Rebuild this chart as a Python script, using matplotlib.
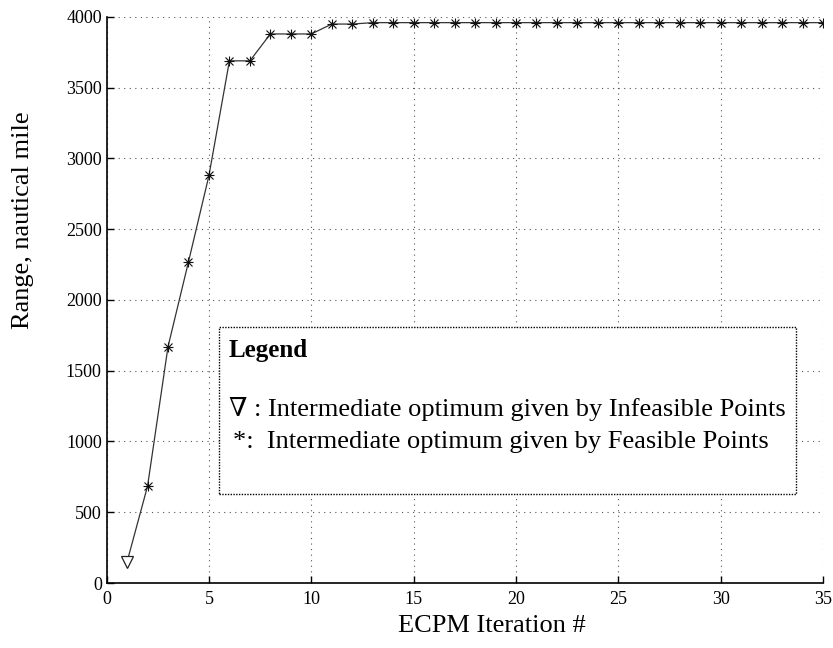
import numpy as np
import matplotlib
matplotlib.use('Agg')
import matplotlib.pyplot as plt
from matplotlib.patches import Rectangle

# ECPM iteration history
infeasible_iter = [1]
infeasible_range = [150]

feasible_iter = list(range(2, 36))
feasible_range = [685, 1670, 2270, 2880, 3690, 3690, 3880, 3880, 3880,
                  3950, 3950] + [3960] * 23

all_iter = infeasible_iter + feasible_iter
all_range = infeasible_range + feasible_range

plt.rcParams['font.family'] = ['Liberation Serif', 'DejaVu Serif']

fig = plt.figure(figsize=(8.33, 6.48), dpi=100)
ax = fig.add_axes([0.128, 0.1003, 0.860, 0.8735])

ax.plot(all_iter, all_range, color='#333333', lw=0.9)
ax.plot(infeasible_iter, infeasible_range, linestyle='none', marker='v',
        markersize=9, markerfacecolor='white', markeredgecolor='#222222', markeredgewidth=0.9)
ax.plot(feasible_iter, feasible_range, linestyle='none', marker='+',
        markersize=7.5, color='#111111', markeredgewidth=0.8)
ax.plot(feasible_iter, feasible_range, linestyle='none', marker='x',
        markersize=5.5, color='#111111', markeredgewidth=0.8)
ax.plot(feasible_iter, feasible_range, linestyle='none', marker='s',
        markersize=2, color='#111111')

ax.set_xlim(0, 35)
ax.set_ylim(0, 4000)
ax.set_xticks(range(0, 36, 5))
ax.set_yticks(range(0, 4001, 500))
ax.grid(True, linestyle=(0, (1, 4)), color='#555555', lw=0.8)
ax.tick_params(direction='in', length=5, labelsize=13, width=1)
ax.tick_params(axis='x', pad=6)
ax.spines['top'].set_visible(False)
ax.spines['right'].set_visible(False)
ax.spines['left'].set_linewidth(1.2)
ax.spines['bottom'].set_linewidth(1.2)

# axis labels placed where they sit in the original
fig.text(492 / 833, 1 - 626 / 648, 'ECPM Iteration #', fontsize=19,
         ha='center', va='center')
fig.text(23 / 833, 1 - 220 / 648, 'Range, nautical mile', fontsize=19,
         ha='center', va='center', rotation=90)

# legend box drawn as text block
box = Rectangle((219 / 833, 1 - 494 / 648), (796 - 219) / 833, (494 - 327) / 648,
                transform=fig.transFigure, fill=True, facecolor='white',
                edgecolor='black', linestyle=(0, (1, 1)), lw=1.0, zorder=5)
fig.patches.append(box)
fig.text(229 / 833, 1 - 350 / 648, 'Legend', fontsize=18, fontweight='bold',
         va='center', ha='left', zorder=6)
fig.text(229 / 833, 1 - 409 / 648, '\u2207 : Intermediate optimum given by Infeasible Points',
         fontsize=19, va='center', ha='left', zorder=6)
fig.text(233 / 833, 1 - 442 / 648, '*:  Intermediate optimum given by Feasible Points',
         fontsize=19, va='center', ha='left', zorder=6)

fig.savefig('out.png', dpi=100)
